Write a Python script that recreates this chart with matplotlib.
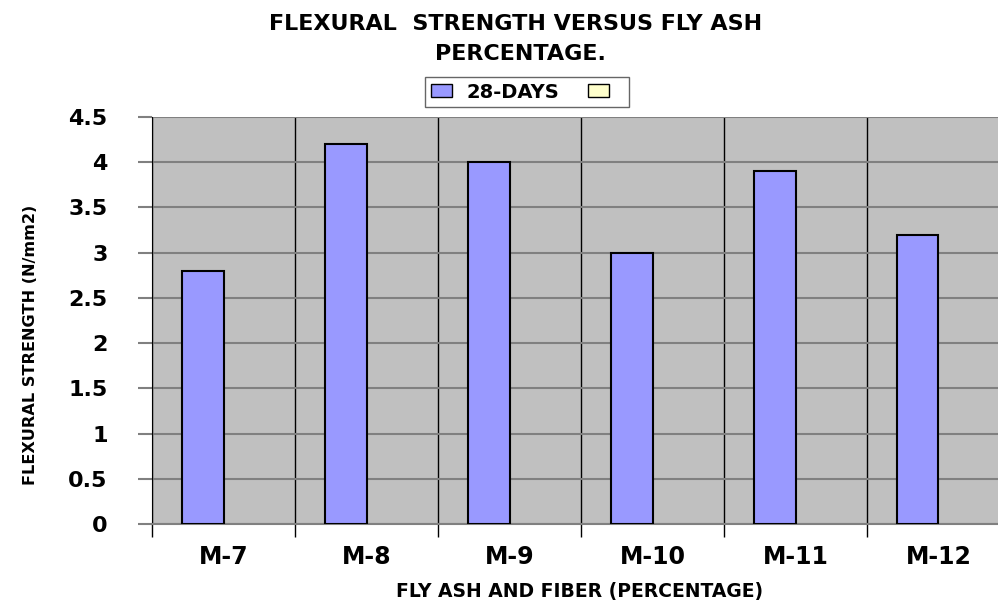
import matplotlib
matplotlib.use("Agg")
import matplotlib.pyplot as plt
from matplotlib.patches import Patch
import numpy as np

categories = ["M-7", "M-8", "M-9", "M-10", "M-11", "M-12"]
days28 = [2.8, 4.2, 4.0, 3.0, 3.9, 3.2]
yticks = [0, 0.5, 1, 1.5, 2, 2.5, 3, 3.5, 4, 4.5]
ytick_labels = ["0", "0.5", "1", "1.5", "2", "2.5", "3", "3.5", "4", "4.5"]

fig = plt.figure(figsize=(9.98, 6.04), dpi=100)
ax = fig.add_axes([152/998, 1-524/604, 858/998, (524-117)/604])
ax.set_facecolor("#c0c0c0")

x = np.arange(len(categories))
w = 0.287
ax.bar(x - w/2, days28, width=w, color="#9999ff", edgecolor="black", linewidth=1.5, zorder=3)

ax.set_xlim(-0.5, len(categories) - 0.5)
ax.set_ylim(0, 4.5)
ax.set_yticks(yticks)
ax.set_yticklabels(ytick_labels, fontsize=16, fontweight="bold")
ax.set_xticks(x)
ax.set_xticklabels(categories, fontsize=17, fontweight="bold")
ax.set_xticks(np.arange(len(categories) + 1) - 0.5, minor=True)
ax.tick_params(axis="x", which="major", length=0, pad=15)
ax.tick_params(axis="x", which="minor", length=9, width=1, color="black")
ax.tick_params(axis="y", length=10, width=1.5, color="#808080", pad=22)
ax.grid(axis="y", color="#808080", linewidth=1.5, zorder=1)
ax.grid(axis="x", which="minor", color="black", linewidth=1, zorder=1)
ax.set_axisbelow(True)
for s in ["top", "right"]:
    ax.spines[s].set_visible(False)
ax.spines["left"].set_color("black")
ax.spines["bottom"].set_color("#808080")
ax.spines["bottom"].set_linewidth(1.5)

fig.text(580/998, 1-591/604, "FLY ASH AND FIBER (PERCENTAGE)", ha="center", va="center",
         fontsize=13.5, fontweight="bold")

ylab = fig.text(31/998, 1-345/604, "FLEXURAL STRENGTH (N/mm2)", rotation=90, ha="center", va="center",
                fontsize=12, fontweight="bold")
fig.canvas.draw()
ext = ylab.get_window_extent()
ylab.set_fontsize(12 * 280.0 / ext.height)

fig.text(516/998, 1-24/604, "FLEXURAL  STRENGTH VERSUS FLY ASH", ha="center", va="center",
         fontsize=16, fontweight="bold")
fig.text(520/998, 1-54/604, "PERCENTAGE.", ha="center", va="center",
         fontsize=16, fontweight="bold")

handles = [Patch(facecolor="#9999ff", edgecolor="black"), Patch(facecolor="#ffffcc", edgecolor="black")]
leg = fig.legend(handles, ["28-DAYS", ""], loc="center", bbox_to_anchor=(527/998, 1-92/604),
                 ncol=2, frameon=True, fancybox=False, prop={"weight": "bold", "size": 14},
                 handlelength=1.1, handleheight=0.6, columnspacing=1.5, handletextpad=0.7,
                 borderpad=0.3, borderaxespad=0)
leg.get_frame().set_edgecolor("#404040")
leg.get_frame().set_linewidth(1)

fig.savefig("out.png", dpi=100)
